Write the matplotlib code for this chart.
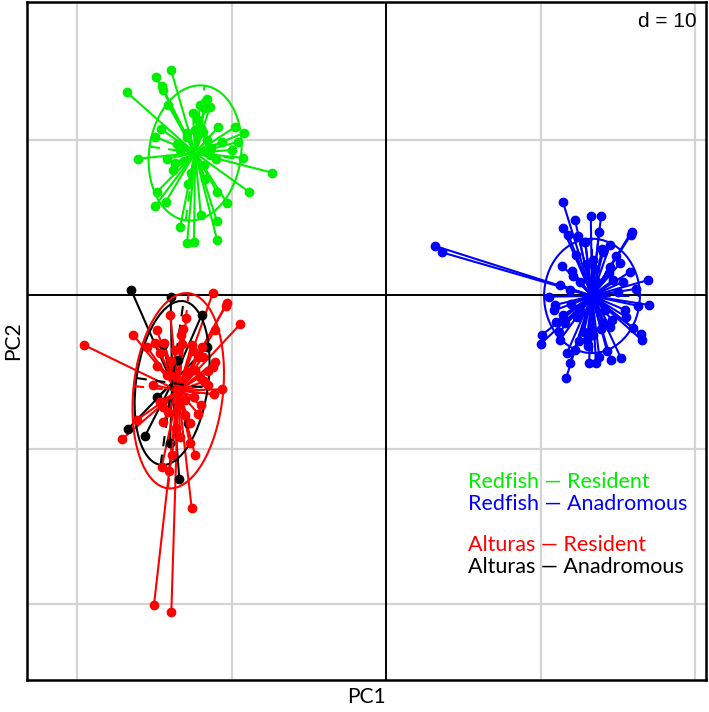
import matplotlib
matplotlib.use("Agg")
import matplotlib.pyplot as plt
import numpy as np
from matplotlib.patches import Ellipse

# group scores on PC1 / PC2
green_x = [-16.78, -13.92, -14.89, -14.52, -14.43, -14.11, -12.04, -11.59, -11.39, -11.78,
           -10.87, -9.77, -9.19, -9.58, -14.58, -14.95, -16.05, -14.19, -13.66, -9.26,
           -7.40, -8.87, -10.96, -10.29, -14.82, -14.26, -14.95, -13.33, -12.88, -12.43,
           -11.99, -10.96, -10.94, -12.90, -12.36, -12.04, -11.84, -13.33, -11.39, -9.97,
           -12.9, -11.6, -13.1, -11.8, -12.6, -11.3, -13.5, -12.2, -11.0, -12.8,
           -11.7, -13.8, -12.0, -10.6, -12.5]
green_y = [13.12, 14.56, 14.13, 13.53, 13.27, 12.30, 12.30, 12.69, 12.19, 12.10,
           10.87, 10.87, 10.49, 9.90, 10.74, 10.23, 8.82, 8.82, 8.56, 8.87,
           7.92, 6.67, 6.69, 5.95, 6.67, 6.04, 5.76, 4.40, 3.37, 3.45,
           5.18, 4.81, 3.56, 10.49, 10.68, 10.49, 10.55, 9.39, 9.06, 9.39,
           10.2, 10.0, 8.7, 8.4, 7.9, 9.5, 9.8, 11.3, 8.8, 7.2,
           7.5, 8.1, 10.8, 9.9, 11.8]

blue_x = [3.17, 3.61, 11.44, 13.25, 13.92, 11.44, 11.80, 12.45, 12.88, 13.79,
          15.90, 15.84, 14.06, 15.15, 14.50, 12.04, 16.98, 15.36, 11.26, 10.57,
          16.33, 17.04, 11.48, 10.08, 10.01, 16.50, 16.55, 16.01, 14.50, 11.70,
          11.91, 11.65, 13.14, 13.59, 14.56, 15.21, 13.42, 14.03, 12.34, 12.99,
          13.74, 12.56, 13.42, 14.71, 11.00, 11.26, 12.23, 15.47, 12.23, 14.50, 10.94,
          12.1, 14.4, 12.6, 14.2, 13.0, 13.9, 11.9, 15.0, 12.8, 14.6,
          13.5, 12.3, 14.9, 11.6, 13.1, 14.0, 15.5, 12.0, 13.6, 12.9,
          14.3, 11.4, 15.8, 12.5, 13.8, 10.9, 11.2, 16.2]
blue_y = [3.17, 2.76, 6.04, 5.13, 5.13, 4.32, 3.88, 3.82, 3.45, 4.10,
          4.10, 3.88, 2.80, 2.05, 1.83, 1.57, 0.97, 0.86, 0.65, -0.11,
          -0.71, -0.65, -1.29, -2.59, -3.17, -2.52, -2.91, -2.16, -2.05, -3.77,
          -4.38, -5.39, -4.42, -4.38, -4.21, -4.10, -2.59, -1.83, -1.40, -2.91,
          -0.32, 0.86, 2.27, 0.97, -1.75, -2.91, -3.56, -0.97, 4.85, 3.24, -0.65,
          1.2, 1.4, -1.1, -1.0, 2.0, -2.2, 0.3, 0.2, -2.4, -1.6,
          1.7, 2.6, 2.5, -1.8, -3.3, 3.0, -1.4, -0.6, 0.9, 3.4,
          -3.6, 1.9, 1.5, -3.0, -4.0, -1.0, -2.4, 0.4]

red_x = [-19.55, -16.36, -11.22, -10.31, -10.38, -9.45, -13.98, -12.94, -13.12, -14.95,
         -14.37, -14.63, -12.58, -11.93, -11.07, -11.18, -10.63, -11.13, -12.15, -14.41,
         -17.07, -12.36, -14.52, -14.05, -12.58, -15.02, -13.90, -14.41, -13.33, -12.69,
         -12.04, -14.84, -15.49, -11.83, -16.14, -11.52, -12.36, -13.01, -13.66, -11.07, -13.85,
         -12.8, -14.2, -12.4, -14.6, -13.0, -13.9, -12.2, -14.8, -13.2, -12.0,
         -11.8, -15.1, -13.6, -12.7, -14.1, -11.5, -13.3, -12.5]
red_y = [-3.24, -2.59, 0.11, -0.54, -0.71, -1.90, -1.29, -1.51, -2.22, -3.13,
         -3.09, -3.73, -3.24, -3.35, -4.32, -4.68, -6.10, -6.41, -7.70, -8.20,
         -9.32, -10.36, -11.11, -11.37, -13.81, -20.06, -20.54, -7.23, -9.17, -8.30,
         -5.29, -2.27, -3.35, -3.99, -8.09, -5.83, -4.85, -6.80, -3.56, -2.27, -10.36,
         -5.0, -5.2, -6.6, -6.9, -7.8, -4.3, -4.0, -4.6, -3.2, -7.1,
         -5.6, -5.8, -8.6, -9.6, -7.6, -4.9, -2.6, -3.6]

black_x = [-16.50, -13.94, -11.93, -11.57, -14.80, -16.72, -15.60, -12.80, -13.38, -13.98,
           -14.43, -13.46]
black_y = [0.32, -0.11, -1.29, -3.35, -6.62, -8.69, -9.13, -8.30, -11.93, -9.58,
           -3.24, -4.21]

# class centres and ellipse (width, height, angle)
centres = {"green": (-12.36, 9.19), "blue": (13.33, -0.06),
           "red": (-13.45, -6.2), "black": (-13.85, -5.7)}
ellipses = {"green": (5.95, 8.8, -8), "blue": (6.2, 7.4, 0),
            "red": (5.8, 12.7, -6), "black": (4.66, 10.7, -8)}

groups = [("black", black_x, black_y, "black"),
          ("red", red_x, red_y, "#ff0000"),
          ("green", green_x, green_y, "#00ee00"),
          ("blue", blue_x, blue_y, "#0000ff")]

legend_lines = [("Redfish \u2014 Resident", "#00ee00"),
                ("Redfish \u2014 Anadromous", "#0000ff"),
                ("Alturas \u2014 Resident", "#ff0000"),
                ("Alturas \u2014 Anadromous", "black")]

fig = plt.figure(figsize=(7.09, 7.12), dpi=100)
ax = fig.add_axes([0.0381, 0.0449, 0.9577, 0.9523])
ax.set_xlim(-23.24, 20.71)
ax.set_ylim(-24.92, 18.96)

for g in [-20, -10, 10, 20]:
    ax.axvline(g, color="#d4d4d4", lw=1.6, zorder=0)
for g in [10, -10, -20]:
    ax.axhline(g, color="#d4d4d4", lw=1.6, zorder=0)
ax.axvline(0, color="black", lw=1.4, zorder=1)
ax.axhline(0, color="black", lw=1.4, zorder=1)

for name, xs, ys, col in groups:
    cx, cy = centres[name]
    for x, y in zip(xs, ys):
        ax.plot([cx, x], [cy, y], color=col, lw=1.5, zorder=2)
    ax.plot(xs, ys, "o", color=col, ms=6, zorder=3)
    w, h, ang = ellipses[name]
    ax.add_patch(Ellipse((cx, cy), w, h, angle=ang, fill=False,
                         edgecolor=col, lw=1.5, zorder=3))
    t = np.deg2rad(ang)
    ax.plot([cx - w / 2 * np.cos(t), cx + w / 2 * np.cos(t)],
            [cy - w / 2 * np.sin(t), cy + w / 2 * np.sin(t)],
            color=col, lw=1.5, ls=(0, (5, 4)), zorder=3)
    ax.plot([cx + h / 2 * np.sin(t), cx - h / 2 * np.sin(t)],
            [cy - h / 2 * np.cos(t), cy + h / 2 * np.cos(t)],
            color=col, lw=1.5, ls=(0, (5, 4)), zorder=3)

ax.set_xticks([])
ax.set_yticks([])
for s in ax.spines.values():
    s.set_linewidth(1.8)

ax.text(0.986, 0.985, "d = 10", transform=ax.transAxes, ha="right", va="top",
        fontsize=15, family="Liberation Sans")

ypos = [0.292, 0.259, 0.199, 0.166]
for (txt, col), yy in zip(legend_lines, ypos):
    ax.text(0.650, yy, txt, transform=ax.transAxes, color=col, fontsize=15.5,
            family="Lato", va="center", ha="left")

ax.set_xlabel("PC1", fontsize=15, family="Lato", labelpad=5)
ax.set_ylabel("PC2", fontsize=15, family="Lato", labelpad=3)

fig.savefig("out.png", dpi=100)
